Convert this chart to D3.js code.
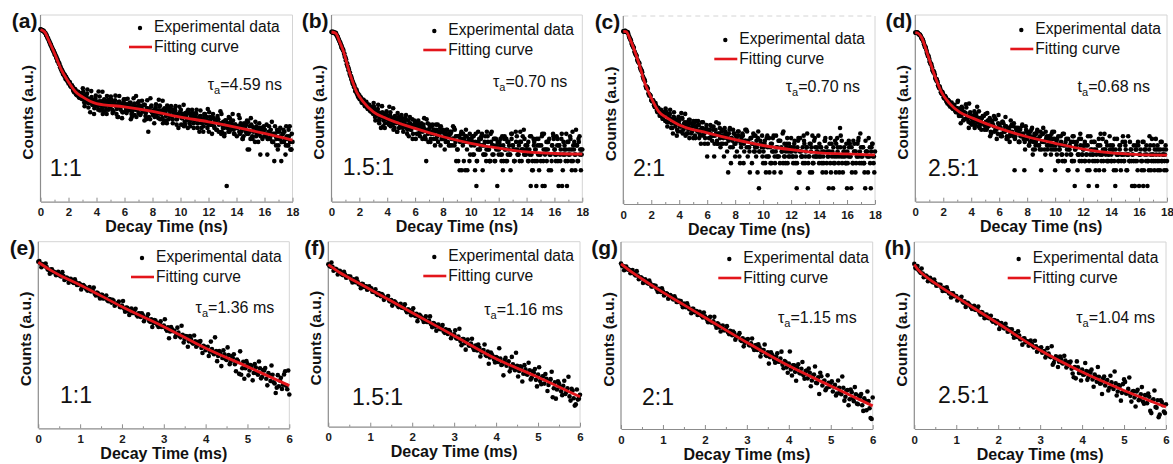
<!DOCTYPE html>
<html><head><meta charset="utf-8">
<script src="https://cdn.jsdelivr.net/npm/d3@7"></script>
<style>body{margin:0;background:#fff}svg{display:block}</style>
</head><body><svg id="chart" width="1173" height="464"></svg>
<script>
// ---------- data ----------
const panelIds = ["a","b","c","d","e","f","g","h"];
const ratios = ["1:1","1.5:1","2:1","2.5:1","1:1","1.5:1","2:1","2.5:1"];
const tauSymbols = ["τ","τ","τ","t","τ","τ","τ","τ"];
const tauValues = ["4.59 ns","0.70 ns","0.70 ns","0.68 ns","1.36 ms","1.16 ms","1.15 ms","1.04 ms"];
const nsTicks = [0,2,4,6,8,10,12,14,16,18];
const nsMinorTicks = [1,3,5,7,9,11,13,15,17];
const msTicks = [0,1,2,3,4,5,6];
const msMinorTicks = [0.5,1.5,2.5,3.5,4.5,5.5];
const nsChannel = 0.1;   // ns per plotted channel
const msChannel = 0.05;  // ms per plotted channel

// counts on channel starts (t = i*channel)
const countsA = [1010,975,940,880,790,705,600,545,450,410,340,
312,250,236,190,172,140,139,112,114,92,97,78,80,63,70,55,64,49,58,46,
54,43,50,39,47,45,36,44,35,41,
34,42,37,31,40,35,29,38,44,33,36,27,39,34,21,41,32,36,26,35,
30,37,28,34,24,31,38,29,33,25,35,30,27,36,22,31,11,28,33,26,
25,30,22,28,33,24,20,29,26,18,31,23,27,21,25,30,19,24,22,26,
20,24,17,22,27,19,14,23,21,18,25,16,20,22,13,19,24,17,21,15,
18,15,20,14,17,12,19,16,10,15,13,18,1,16,11,17,14,12,15,13,
14,11,16,12,9,13,15,5,5,8,14,11,13,9,12,10,4,13,11,9,
9,4,11,8,10,7,3,9,12,6,8,3,10,7,4,9,6,14,5,7];
const countsB = [905,870,872,830,770,650,585,470,430,345,295,
215,190,140,128,95,90,66,70,52,55,50,39,45,34,41,30,36,27,33,24,
29,22,27,18,25,21,14,24,19,22,
17,23,20,15,21,18,11,19,16,22,14,17,20,13,18,15,12,19,14,16,
13,17,10,14,12,15,9,3,16,11,7,14,10,12,15,9,11,13,8,12,
10,7,12,9,6,11,8,13,7,9,3,2,10,8,3,2,9,7,3,8,
7,9,2,1,5,8,6,10,4,7,3,9,5,3,11,6,3,8,1,4,
6,3,2,8,5,3,7,4,10,6,3,5,9,4,3,7,5,12,4,6,
3,5,1,2,8,3,1,6,2,4,9,3,1,5,7,2,4,3,10,5,
3,6,1,4,8,2,5,3,1,7,4,3,11,5,2,6,3,9,2,5];
const countsC = [970,985,950,940,790,690,570,500,400,350,280,
250,200,175,135,118,88,84,64,60,48,47,38,42,30,34,24,31,21,28,19,
27,18,25,21,14,23,17,20,12,19,
15,22,13,18,16,11,20,14,17,9,15,19,12,16,10,14,18,11,13,4,
12,9,15,10,4,13,8,11,14,7,10,4,12,9,2,13,3,8,11,4,
9,12,4,7,10,3,8,13,4,6,9,3,11,5,4,2,1,8,6,3,
7,2,10,4,6,3,9,2,5,4,8,3,6,11,4,3,7,5,4,9,
4,6,3,1,8,2,5,4,10,3,6,1,4,7,2,3,9,4,5,3,
6,3,4,8,2,5,1,3,7,1,4,2,9,3,14,4,2,6,3,1,
4,7,1,3,5,2,4,8,3,6,4,3,1,5,2,4,1,7,3,5];
const countsD = [880,870,860,790,745,650,570,460,400,310,275,
215,190,150,136,105,98,76,72,58,57,47,49,38,43,33,40,30,36,26,31,
24,29,22,27,19,25,21,17,23,20,
18,23,15,21,17,13,19,16,22,14,12,18,15,11,17,14,20,12,10,15,
13,9,16,11,14,8,12,10,15,9,2,13,11,7,12,9,10,2,14,8,
10,7,12,4,9,6,11,8,5,2,10,7,4,9,6,8,4,11,5,2,
7,3,5,9,4,6,3,8,2,5,4,3,7,1,6,2,4,10,3,5,
3,6,2,1,4,7,3,5,2,1,6,4,3,8,2,5,3,4,9,3,
5,2,1,4,3,6,2,4,3,7,2,4,3,5,1,3,1,6,2,1,
4,2,1,5,3,1,2,6,3,4,2,8,3,5,2,3,4,2,6,3];
const countsE = [9500,8900,8750,8100,7800,7050,7150,6450,6400,5900,5950,5500,5600,5050,5150,
4700,4850,4350,4450,4050,4150,3750,3850,3450,3560,3200,3350,2900,3050,2700,
2800,2450,2600,2280,2390,2100,2250,1950,2050,1790,1880,1680,1750,1540,1630,
1430,1560,1330,1410,1230,1310,1150,1220,1060,1130,990,1080,910,975,850,
900,790,840,720,780,740,640,690,580,640,540,600,500,545,460,
500,430,470,390,425,360,410,340,375,310,350,290,325,270,310,
250,300,235,270,215,255,150,145,235,185,215,170,200,155,190,
145,185,135,170,125,155,115,145,105,90,95,130,100,165,85,70];
const countsF = [8600,7900,7800,7100,7050,6300,6350,5750,5850,5300,5300,4800,4900,4400,4500,
4050,4150,3700,3780,3400,3480,3100,3190,2850,2950,2620,2700,2400,2480,2200,
2260,2010,2080,1850,1900,1700,1760,1550,1600,1420,1470,1300,1360,1190,1240,
1100,1150,1000,1050,920,960,840,890,770,820,700,760,640,690,590,
630,545,580,490,530,450,500,415,445,380,410,345,380,320,350,
290,330,265,295,245,270,225,255,205,240,195,230,180,205,165,
195,160,185,145,170,140,165,125,150,115,140,110,130,100,120,
95,118,60,105,80,100,75,92,68,84,62,82,58,46,55,66];
const countsG = [9000,8200,8000,7250,7100,6450,6450,5800,5800,5250,5250,4700,4780,4300,4330,
3870,3920,3500,3540,3150,3230,2880,2950,2620,2700,2400,2460,2180,2230,1980,
2050,1800,1860,1650,1700,1500,1560,1360,1410,1230,1290,1130,1180,1020,1070,
940,990,850,890,770,810,710,750,640,690,590,640,535,570,480,
520,445,475,405,440,370,410,340,370,305,340,285,310,260,290,
240,270,215,245,195,225,180,210,165,195,160,185,145,170,130,
160,120,150,110,135,160,100,120,90,110,110,80,102,74,92,
72,92,66,84,60,78,56,72,50,66,48,62,40,56,30,64];
const countsH = [8900,7500,7100,6400,6250,5600,5600,5000,5000,4500,4450,4000,4050,3650,3700,
3280,3320,2980,3000,2700,2720,2420,2450,2200,2230,2000,2030,1800,1820,1640,
1670,1480,1500,1340,1360,1220,1250,1100,1120,990,1020,905,925,820,840,
740,760,670,690,600,630,550,565,495,510,450,470,405,425,365,
385,335,355,305,325,285,215,260,280,240,265,225,250,205,230,
185,135,130,195,158,180,150,170,135,160,125,150,115,138,108,
130,100,122,92,112,88,108,80,98,76,125,74,88,68,80,
64,80,58,72,55,70,52,66,36,60,45,58,34,54,38,50];

// counts on half-channel offsets (t = (i+0.5)*channel)
const countsAMid = [985,965,905,860,740,670,560,505,420,385,
320,295,240,222,176,165,136,133,110,108,98,82,84,68,72,57,63,50,60,47,
64,34,50,71,39,26,51,42,31,54,
36,65,28,42,24,46,33,53,29,41,45,25,37,54,30,21,41,35,26,46,
46,25,33,39,19,27,48,33,21,39,34,24,43,27,36,19,31,21,48,26,
28,21,37,25,45,19,28,16,31,22,35,19,27,29,16,24,34,19,13,26,
15,23,14,25,18,29,16,22,25,13,20,29,16,11,22,18,14,24,16,30,
26,15,10,20,17,12,22,15,27,11,17,10,18,13,21,12,16,18,10,14,
13,23,10,14,8,16,11,18,10,14,15,8,12,17,10,7,13,11,8,14,
9,15,8,11,12,7,10,14,8,5,11,9,7,12,8,14,6,9,5,10];
const countsBMid = [900,870,875,790,725,600,545,440,405,300,
265,195,172,128,117,88,84,64,63,50,51,41,45,37,40,32,36,28,32,25,
33,18,25,36,20,13,26,21,16,27,
19,33,14,20,12,22,16,25,13,18,20,11,16,23,12,9,16,14,10,18,
8,15,13,9,16,11,20,8,12,7,13,10,15,8,11,12,7,10,14,8,
11,8,12,7,10,10,6,8,12,3,5,9,8,2,10,7,12,2,8,4,
8,4,6,10,3,7,5,9,2,6,4,11,5,3,7,4,8,3,6,5,
7,4,9,3,5,8,4,6,2,10,5,3,7,4,6,11,3,5,8,4,
6,3,9,4,2,7,5,3,8,4,6,1,10,5,3,7,4,2,6,8,
4,9,3,6,5,1,7,4,10,3,5,8,2,6,4,12,3,7,5,4];
const countsCMid = [965,990,930,885,725,640,520,470,365,330,
255,238,180,162,120,108,80,78,58,57,45,46,35,37,28,31,24,29,21,26,
29,15,22,31,17,11,22,18,13,23,
15,27,11,17,10,18,13,20,11,15,17,9,13,19,11,7,14,12,9,16,
7,13,11,8,15,10,18,7,11,6,12,9,14,7,10,11,6,9,13,7,
10,8,12,3,9,10,5,8,12,6,2,9,7,5,10,6,12,5,7,4,
6,3,9,4,2,7,5,10,3,6,4,8,2,5,12,4,6,3,7,5,
5,3,8,4,6,2,9,4,3,7,5,11,4,2,6,3,8,4,6,10,
4,6,2,5,9,3,4,7,2,5,3,8,4,6,2,10,3,5,4,7,
3,6,4,2,8,5,3,7,4,11,3,6,2,5,4,9,3,6,4,2];
const countsDMid = [870,880,810,780,680,625,500,445,345,305,
235,212,163,150,114,107,82,79,61,62,49,52,41,44,35,39,31,35,28,31,
43,24,16,31,26,19,32,21,38,16,
15,22,13,24,17,27,15,20,22,12,17,25,14,9,18,15,11,19,13,23,
13,10,17,11,21,9,13,7,14,10,16,9,12,13,7,10,15,8,5,11,
11,6,9,13,7,5,10,8,6,11,7,13,5,8,5,9,6,10,6,8,
5,8,3,6,4,10,3,7,5,2,6,4,9,3,5,7,4,3,8,4,
6,3,4,9,2,5,4,7,3,4,6,2,10,4,3,5,7,3,4,6,
3,5,8,2,4,3,6,4,9,3,5,2,4,7,3,4,1,5,3,6,
4,3,7,2,5,4,3,9,2,4,6,3,5,2,4,7,3,5,4,2];
const countsEMid = [9790,7790,8360,8890,7130,6130,7180,6550,5790,6560,5630,6480,4860,5290,4370,5070,4470,4950,4020,4270,
3420,4020,3680,3270,3720,3190,3660,2730,2960,2440,2810,2470,2730,2210,2340,2320,1870,2030,2180,1770,
2230,1500,1730,1330,1680,1430,1670,1260,1400,1410,1050,1200,1360,1030,850,1100,990,850,1050,860,
1130,740,560,850,730,590,830,610,890,480,610,410,610,480,620,410,490,505,325,410,
390,290,495,330,580,240,350,200,360,260,400,215,290,310,165,240,345,185,125,240,
142,208,118,216,154,237,127,172,186,98,144,204,110,74,143,117,86,147,97,170];
const countsFMid = [8110,9180,6770,7240,5880,6730,5890,6470,5220,5490,5430,4360,4710,5060,4090,3530,4130,3770,3330,3770,
3500,3070,3370,2730,2870,2840,2280,2470,2640,2140,1840,2160,1970,1740,1970,1690,1930,1440,1560,1280,
1660,1245,1030,1310,1175,1000,1230,1000,1230,825,945,720,905,765,890,665,735,740,545,620,
730,535,775,420,530,355,520,410,535,350,415,430,275,345,430,280,210,320,275,220,
263,374,201,136,261,214,158,271,179,317,130,190,108,199,142,218,117,159,172,90,
184,98,133,143,76,110,156,84,57,109,89,65,111,73,129,53,77,44,80,57];
const countsGMid = [8290,7040,8110,7280,6330,7080,6020,6820,5050,5410,4410,5050,4400,4800,3860,4040,3980,3170,3400,3630,
2780,3000,2460,2820,2470,2700,2180,2290,2260,1800,1940,2080,1680,1440,1690,1530,1350,1520,1300,1480,
1217,1035,1263,1027,1260,840,958,732,914,770,894,666,734,734,543,615,690,516,424,540,
556,436,566,370,443,455,292,368,454,296,224,340,291,232,328,241,348,189,238,160,
351,144,211,119,219,155,238,128,173,186,97,142,201,109,73,140,115,84,145,95,
116,95,69,120,79,139,57,83,48,86,62,94,51,68,73,39,56,80,43,29];
const countsHMid = [7700,8210,6730,7500,5450,5780,4680,5320,4600,4990,3990,4170,4110,3270,3510,3740,3000,2580,3000,2720,
2310,2480,2640,2120,1820,2120,1930,1690,1900,1620,1840,1370,1470,1200,1370,1200,1310,1050,1100,1080,
806,1005,844,977,725,795,793,584,659,738,550,451,572,510,433,527,427,522,347,394,
409,351,281,396,293,425,231,293,198,290,228,298,194,234,241,155,197,243,158,120,
148,229,123,167,179,95,139,198,107,73,139,114,83,143,95,167,69,101,57,105,
114,75,134,55,81,46,85,61,94,51,69,74,39,57,83,44,31,58,48,36];

// ns decays: counts on quarter-channel offsets (t = (i+0.25)*channel)
const countsAQuarter = [1000,960,945,870,790,665,600,500,455,380,
352,285,265,215,196,157,150,125,124,102,101,84,85,69,73,58,64,52,58,48,
75,40,55,59,32,46,66,36,24,47,
39,29,52,35,64,27,41,24,45,33,52,29,40,44,24,36,53,29,20,40,
38,27,47,29,40,21,35,23,53,29,42,23,30,35,18,25,44,29,19,35,
23,16,32,27,20,35,24,43,18,27,16,30,22,34,19,26,28,15,23,33,
29,20,36,15,23,13,25,18,29,16,22,24,13,20,28,16,11,21,18,13,
11,21,15,24,13,18,20,11,16,24,13,9,18,15,11,20,13,24,10,15,
9,14,20,11,8,15,13,10,17,11,20,9,13,7,14,10,16,9,12,13,
12,10,8,14,9,17,7,10,6,11,8,13,7,10,11,6,8,12,7,5];
const countsBQuarter = [890,900,850,860,720,650,535,490,395,345,
255,225,165,150,110,102,78,74,58,58,46,48,40,43,35,38,31,34,27,30,
39,21,28,30,16,24,34,18,13,24,
20,15,26,17,31,13,19,11,21,15,23,13,17,19,10,15,21,12,8,15,
14,10,18,11,15,8,13,8,19,10,15,8,11,12,6,8,15,10,6,11,
8,5,10,9,6,11,8,14,6,9,5,9,7,11,6,8,9,5,7,10,
6,9,4,7,3,11,5,8,6,4,9,5,7,3,10,6,4,8,5,7,
5,8,4,6,9,3,7,5,4,8,6,3,11,5,4,7,5,9,4,6,
5,7,4,9,3,6,5,8,4,6,3,10,5,4,7,5,8,4,6,9,
5,4,8,6,3,10,4,6,5,7,4,9,5,3,7,4,6,8,4,5];
const countsCQuarter = [960,980,940,915,760,665,545,480,385,340,
270,245,190,170,128,113,86,80,62,59,47,47,37,38,29,32,25,29,22,27,
33,18,24,26,14,20,28,15,10,20,
16,12,21,14,26,11,16,9,17,12,19,10,14,16,9,13,18,10,7,14,
13,9,16,10,13,7,11,7,17,9,13,7,10,11,5,8,14,9,6,11,
7,5,10,8,6,11,7,13,6,8,5,9,7,10,6,8,9,5,7,10,
5,8,4,6,9,3,7,5,4,10,6,4,8,5,3,7,5,9,4,6,
6,4,7,5,3,9,5,4,6,8,4,6,3,7,5,10,4,6,5,4,
7,4,5,3,8,6,4,5,9,4,6,3,7,5,4,6,8,4,5,3,
5,8,4,6,3,7,5,4,9,5,4,6,3,8,5,4,6,5,7,4];
const countsDQuarter = [865,885,825,800,705,645,525,465,360,318,
245,222,168,158,118,112,85,82,63,64,50,53,42,45,36,39,32,35,29,31,
41,22,31,33,18,26,37,20,13,26,
21,16,27,18,33,14,20,12,22,15,24,13,18,20,10,15,22,12,8,16,
15,9,17,12,14,8,12,9,18,11,14,8,12,11,7,9,14,10,7,12,
9,6,11,8,5,10,7,12,6,9,5,10,7,11,6,8,9,5,8,11,
6,4,9,5,7,3,10,6,4,8,5,7,3,9,5,6,4,8,6,4,
5,7,4,6,3,9,5,4,7,5,3,8,6,4,5,10,4,6,3,5,
4,6,3,5,8,4,5,3,7,4,6,4,9,3,5,4,6,3,5,7,
4,5,3,7,4,6,3,5,4,8,3,5,4,6,3,5,7,4,3,5];

const fitTimeA = [0,0.3,0.6,1,1.5,2,2.5,3,4,6,8,10,12,14,16,18];
const fitCountA = [998,897,610,351,166,99,64,51,38,33,27,21,17,13.3,10.2,7.6];
const fitTimeB = [0,0.3,0.6,0.83,1.31,1.8,2.28,3,3.95,6,8,10,12,14,16,18];
const fitCountB = [897,850,570,401,145,64,41,26.4,19.7,12.7,8.8,6.6,5.3,4.5,4.2,4.1];
const fitTimeC = [0,0.2,0.48,1.09,1.57,2.05,2.52,3.1,4,6,8,10,12,14,16,18];
const fitCountC = [966,960,688,250,95,49,29,22,16,11.3,8.4,6.5,5.4,4.7,4.5,4.3];
const fitTimeD = [0,0.2,0.43,0.9,1.38,1.86,2.46,3.17,4.1,6,8,10,12,14,16,18];
const fitCountD = [873,850,719,321,133,64,38,26,20,12.7,8.8,6.6,5.1,4.3,4.0,3.9];
const fitTimeE = [0,0.25,0.5,1,1.5,2,3,4,5,6];
const fitCountE = [9340,7244,5834,4027,2692,1803,861,387,196,97];
const fitTimeF = [0,0.25,0.5,1,1.5,2,3,4,5,6];
const fitCountF = [8472,6457,5164,3357,2178,1413,597,252,127,61];
const fitTimeG = [0,0.25,0.5,1,1.5,2,3,4,5,6];
const fitCountG = [8892,6607,5105,3112,1959,1233,489,206,98,47];
const fitTimeH = [0,0.1,0.25,0.5,1,1.5,2,3,4,5,6];
const fitCountH = [8730,7080,5754,4325,2630,1607,984,366,164,83,45];

const scatterSets = [countsA,countsB,countsC,countsD,countsE,countsF,countsG,countsH];
const scatterMidSets = [countsAMid,countsBMid,countsCMid,countsDMid,countsEMid,countsFMid,countsGMid,countsHMid];
const scatterQuarterSets = [countsAQuarter,countsBQuarter,countsCQuarter,countsDQuarter,[],[],[],[]];
const fitTimes = [fitTimeA,fitTimeB,fitTimeC,fitTimeD,fitTimeE,fitTimeF,fitTimeG,fitTimeH];
const fitCounts = [fitCountA,fitCountB,fitCountC,fitCountD,fitCountE,fitCountF,fitCountG,fitCountH];
const nsCountDomain = [0.5, 1900];
const msCountDomain = [20, 20000];

// ---------- layout ----------
const panelX0 = [40.5,331.5,623.3,915.3,38.3,328.3,621,914.3];
const panelX1 = [292.5,582.3,875,1167,289.3,580,872.7,1166];
const panelY0 = [15,15,16,15,241.7,241.7,242,242];
const panelY1 = [201.7,201.7,204,201.7,428.3,426.7,429,429];
const legendRowY = [26,29,38,28,256,255,257,257];
const legendTextInset = [138.5,134,135.7,131.7,133.3,131.7,129.4,133.3];
const tauCenterY = [85,82,87,87,308,310,318,318];
const tauRightPad = [10.5,15,15,17,15,17,16,11];
const ratioInsetX = [9.3,11.3,9.7,12.7,21.7,23.7,21,23.7];
const ratioCenterY = [168,167,168,168,395,397,397,395];

const FONT = '"Liberation Sans", Arial, Helvetica, sans-serif';
const AXIS = "#8c8c8c", FRAME = "#d4d4d4", RED = "#e3151b";

const svg = d3.select("#chart");

panelIds.forEach((id, p) => {
  const ns = p < 4;
  const x0 = panelX0[p], x1 = panelX1[p], y0 = panelY0[p], y1 = panelY1[p];
  const x = d3.scaleLinear().domain(ns ? [0,18] : [0,6]).range([x0, x1]);
  const y = d3.scaleLog().domain(ns ? nsCountDomain : msCountDomain).range([y1, y0]);
  const g = svg.append("g");

  // frame
  g.append("line").attr("x1",x0).attr("x2",x1).attr("y1",y0).attr("y2",y0)
    .attr("stroke",FRAME).attr("stroke-width",1).attr("stroke-dasharray", p===2 ? "5,4" : null);
  g.append("line").attr("x1",x1).attr("x2",x1).attr("y1",y0).attr("y2",y1)
    .attr("stroke",FRAME).attr("stroke-width",1);
  g.append("line").attr("x1",x0).attr("x2",x0).attr("y1",y0).attr("y2",y1)
    .attr("stroke",AXIS).attr("stroke-width",1.2);

  // scatter
  const step = ns ? nsChannel : msChannel;
  const pts = scatterSets[p].map((c,i) => ({t: i*step, c}))
    .concat(scatterMidSets[p].map((c,i) => ({t: (i+0.5)*step, c})))
    .concat(scatterQuarterSets[p].map((c,i) => ({t: (i+0.25)*step, c})));
  g.append("g").selectAll("circle").data(pts).join("circle")
    .attr("cx", d => x(d.t)).attr("cy", d => y(d.c)).attr("r", 2.3).attr("fill", "#000");

  // fit curve
  const line = d3.line().x(d => x(d[0])).y(d => y(d[1])).curve(d3.curveMonotoneX);
  g.append("path").datum(d3.zip(fitTimes[p], fitCounts[p])).attr("d", line)
    .attr("fill","none").attr("stroke",RED).attr("stroke-width",2.8).attr("stroke-linejoin","round");

  // x axis
  const ax = g.append("g").attr("transform", `translate(0,${y1})`)
    .call(d3.axisBottom(x).tickValues(ns ? nsTicks : msTicks).tickFormat(d3.format("d"))
      .tickSize(-4).tickSizeOuter(0).tickPadding(6.5));
  ax.attr("font-family", FONT).attr("font-size", 11.5).attr("font-weight", "bold");
  ax.select(".domain").attr("stroke", AXIS).attr("stroke-width", 1.2);
  ax.selectAll(".tick line").attr("stroke", AXIS);
  ax.selectAll(".tick text").attr("fill", "#1a1a1a");
  const mx = g.append("g").attr("transform", `translate(0,${y1})`)
    .call(d3.axisBottom(x).tickValues(ns ? nsMinorTicks : msMinorTicks).tickSize(-2).tickSizeOuter(0).tickFormat(""));
  mx.select(".domain").remove();
  mx.selectAll(".tick line").attr("stroke", AXIS);

  // axis titles
  g.append("text").attr("x", (x0+x1)/2).attr("y", y1 + 30.5).attr("text-anchor","middle")
    .attr("font-family",FONT).attr("font-size",16).attr("font-weight","bold").attr("fill","#111")
    .text(ns ? "Decay Time (ns)" : "Decay Time (ms)");
  g.append("text").attr("transform", `translate(${x0-7.5},${(y0+y1)/2+4}) rotate(-90)`)
    .attr("text-anchor","middle").attr("font-family",FONT).attr("font-size",15.5).attr("font-weight","bold").attr("fill","#111")
    .text("Counts (a.u.)");

  // panel label
  g.append("text").attr("x", x0 - 3).attr("y", y0 + 13).attr("text-anchor","end")
    .attr("font-family",FONT).attr("font-size",21).attr("font-weight","bold").attr("fill","#111")
    .text(`(${id})`);

  // legend
  const tx = x1 - legendTextInset[p], ly = legendRowY[p];
  g.append("circle").attr("cx", tx - 14).attr("cy", ly + 2).attr("r", 2.2).attr("fill", "#000");
  g.append("text").attr("x", tx).attr("y", ly + 5.5).attr("font-family",FONT).attr("font-size",15.6)
    .attr("fill","#111").text("Experimental data");
  g.append("line").attr("x1", tx - 25).attr("x2", tx - 2).attr("y1", ly + 21).attr("y2", ly + 21)
    .attr("stroke", RED).attr("stroke-width", 2.6);
  g.append("text").attr("x", tx).attr("y", ly + 25.5).attr("font-family",FONT).attr("font-size",15.6)
    .attr("fill","#111").text("Fitting curve");

  // lifetime
  const tt = g.append("text").attr("x", x1 - tauRightPad[p]).attr("y", tauCenterY[p] + 5)
    .attr("text-anchor","end").attr("font-family",FONT).attr("font-size",16).attr("fill","#111");
  tt.append("tspan").text(tauSymbols[p]);
  tt.append("tspan").attr("font-size",11).attr("dy",4).text("a");
  tt.append("tspan").attr("dy",-4).text("=" + tauValues[p]);

  // ratio
  g.append("text").attr("x", x0 + ratioInsetX[p]).attr("y", ratioCenterY[p] + 8.2)
    .attr("font-family",FONT).attr("font-size",23).attr("fill","#111").text(ratios[p]);
});
</script></body></html>
